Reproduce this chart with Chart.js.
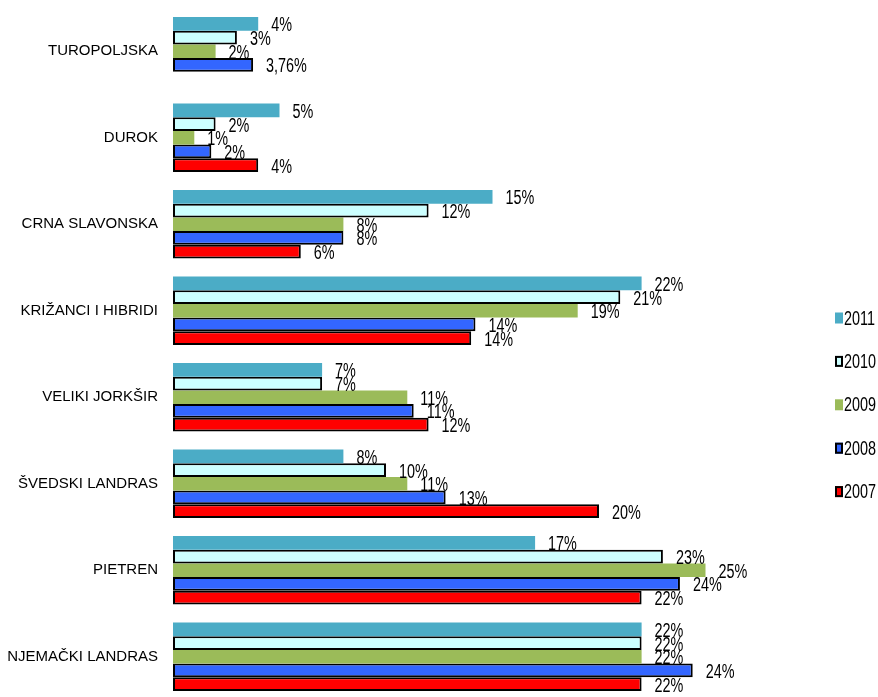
<!DOCTYPE html>
<html>
<head>
<meta charset="utf-8">
<script src="https://cdn.jsdelivr.net/npm/chart.js@4.4.1/dist/chart.umd.min.js"></script>
<style>
  html, body { margin: 0; padding: 0; background: #fff; overflow: hidden; }
  #wrap { width: 878px; height: 700px; position: relative; }
</style>
</head>
<body>
<div id="wrap"><canvas id="breedChart"></canvas></div>
<script>
const breeds = ["TUROPOLJSKA", "DUROK", "CRNA SLAVONSKA", "KRIŽANCI I HIBRIDI",
  "VELIKI JORKŠIR", "ŠVEDSKI LANDRAS", "PIETREN", "NJEMAČKI LANDRAS"];
const years = ["2011", "2010", "2009", "2008", "2007"];

// shares in %
const share2011 = [4, 5, 15, 22, 7, 8, 17, 22];
const share2010 = [3, 2, 12, 21, 7, 10, 23, 22];
const share2009 = [2, 1, 8, 19, 11, 11, 25, 22];
const share2008 = [3.76, 1.8, 8, 14.2, 11.3, 12.8, 23.8, 24.4];
const share2007 = [null, 4, 6, 14, 12, 20, 22, 22];

// labels as printed next to the bars
const text2011 = ["4%", "5%", "15%", "22%", "7%", "8%", "17%", "22%"];
const text2010 = ["3%", "2%", "12%", "21%", "7%", "10%", "23%", "22%"];
const text2009 = ["2%", "1%", "8%", "19%", "11%", "11%", "25%", "22%"];
const text2008 = ["3,76%", "2%", "8%", "14%", "11%", "13%", "24%", "24%"];
const text2007 = ["", "4%", "6%", "14%", "12%", "20%", "22%", "22%"];

const fills = ["#4BACC6", "#CCFFFF", "#9BBB59", "#3366FF", "#FF0000"];
const outlined = [false, true, false, true, true];

const shares = [share2011, share2010, share2009, share2008, share2007];
const texts = [text2011, text2010, text2009, text2008, text2007];

const datasets = years.map((y, i) => ({
  label: y,
  data: shares[i],
  valueText: texts[i],
  backgroundColor: fills[i],
  borderColor: "#000",
  borderWidth: outlined[i] ? 2 : 0,
  borderSkipped: false,
  categoryPercentage: 0.79,
  barPercentage: 1.0
}));

const narrowFont = '20px "Liberation Sans", Arial, sans-serif';

// value text at the end of each bar (squeezed like the original)
const barText = {
  id: "barText",
  afterDatasetsDraw(chart) {
    const ctx = chart.ctx;
    chart.data.datasets.forEach((ds, i) => {
      const meta = chart.getDatasetMeta(i);
      meta.data.forEach((bar, j) => {
        const txt = ds.valueText[j];
        if (ds.data[j] == null || !txt) return;
        ctx.save();
        ctx.font = narrowFont;
        ctx.fillStyle = "#000";
        ctx.textBaseline = "middle";
        ctx.translate(bar.x + 13, bar.y + 2);
        ctx.scale(0.72, 1);
        ctx.fillText(txt, 0, 0);
        ctx.restore();
      });
    });
  }
};

// legend on the right
const sideLegend = {
  id: "sideLegend",
  afterDraw(chart) {
    const ctx = chart.ctx;
    const x = 835, top = 318, step = 43.4;
    chart.data.datasets.forEach((ds, i) => {
      const cy = top + i * step;
      ctx.save();
      ctx.fillStyle = ds.backgroundColor;
      ctx.fillRect(x, cy - 5.5, 8, 11);
      if (ds.borderWidth) {
        ctx.strokeStyle = "#000";
        ctx.lineWidth = 2;
        ctx.strokeRect(x + 1, cy - 4.5, 6, 9);
      }
      ctx.font = narrowFont;
      ctx.fillStyle = "#000";
      ctx.textBaseline = "middle";
      ctx.translate(x + 9, cy + 1);
      ctx.scale(0.72, 1);
      ctx.fillText(ds.label, 0, 0);
      ctx.restore();
    });
  }
};

new Chart(document.getElementById("breedChart"), {
  type: "bar",
  data: { labels: breeds, datasets: datasets },
  options: {
    indexAxis: "y",
    responsive: true,
    maintainAspectRatio: false,
    animation: false,
    layout: { padding: { top: 8, right: 66, bottom: 0, left: 0 } },
    plugins: {
      legend: { display: false },
      tooltip: { enabled: false }
    },
    scales: {
      x: { display: false, min: 0, max: 30 },
      y: {
        grid: { display: false, drawTicks: false },
        border: { display: false },
        ticks: {
          color: "#000",
          padding: 15,
          font: { family: '"Liberation Sans", Arial, sans-serif', size: 15 }
        },
        afterFit(scale) {
          scale.width = 173;
          scale.paddingTop = 0;
          scale.paddingBottom = 0;
        }
      }
    }
  },
  plugins: [barText, sideLegend]
});
</script>
</body>
</html>
